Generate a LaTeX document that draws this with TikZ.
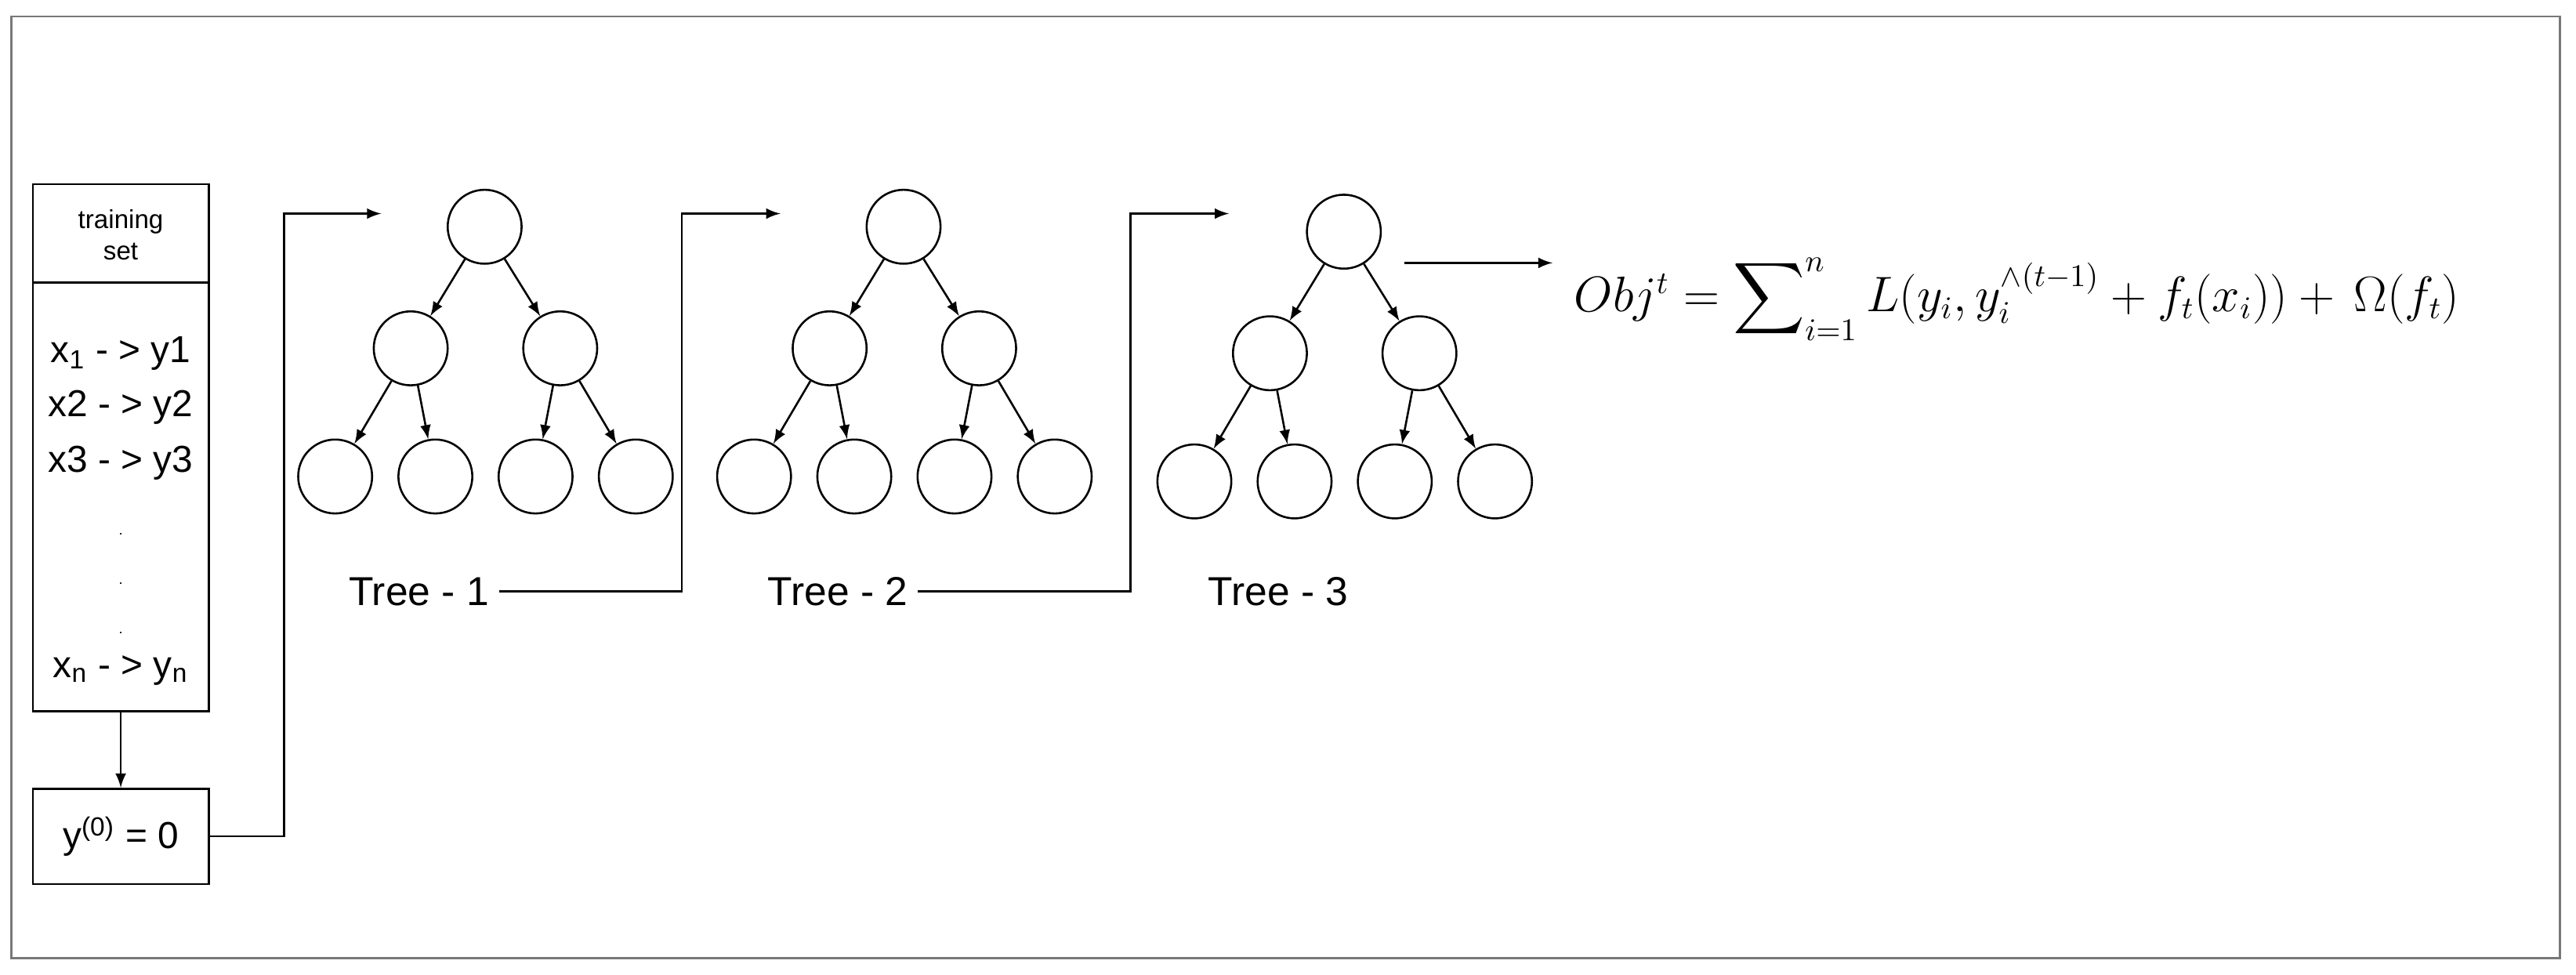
\documentclass[tikz,border=0pt]{standalone}
\usepackage{fontspec}
\setmainfont{Liberation Sans}
\usepackage{amsmath}
\usetikzlibrary{arrows,positioning}
\definecolor{framegray}{RGB}{120,120,120}
\tikzset{
  leaf/.style={draw,circle,minimum size=0.9cm,inner sep=0pt,line width=0.7pt},
  box/.style={draw,line width=0.7pt,inner sep=0pt},
  link/.style={-latex,line width=0.7pt},
  label/.style={font=\fontsize{13}{15}\selectfont}
}
\begin{document}
\begin{tikzpicture}[x=0.02cm,y=-0.02cm,font=\sffamily]
      \useasboundingbox (0,0) rectangle (1568,593);
      \draw[framegray,line width=0.8pt] (7,10) rectangle (1558,583);
      % training set
      \node[box,minimum width=2.14cm,minimum height=6.42cm] (train) at (73.5,272.5) {};
      \draw[line width=0.7pt] (20,172) -- (127,172);
      \node[align=center,font=\fontsize{9}{11}\selectfont] (head) at (73.5,143) {training\\set};
      \node[label] (r1) at (73.5,215) {x\textsubscript{1} - > y1};
      \node[label] (r2) at (73.5,248) {x2 - > y2};
      \node[label] (r3) at (73.5,282) {x3 - > y3};
      \foreach \yy in {325,355,385}
        \node[font=\tiny] at (73.5,\yy) {.};
      \node[label] (rn) at (73.5,408) {x\textsubscript{n} - > y\textsubscript{n}};
      \node[box,minimum width=2.14cm,minimum height=1.16cm,label] (init) at (73.5,509) {y\textsuperscript{(0)} = 0};
      \draw[link] (train) -- (init);
      % trees
      \foreach \t/\x/\yo in {1/295/0,2/550/0,3/818/3} {
        \node[leaf] (root\t) at (\x,138+\yo) {};
        \node[leaf] (l\t) at (\x-45,212+\yo) {};
        \node[leaf] (r\t) at (\x+46,212+\yo) {};
        \node[leaf] (ll\t) at (\x-91,290+\yo) {};
        \node[leaf] (lr\t) at (\x-30,290+\yo) {};
        \node[leaf] (rl\t) at (\x+31,290+\yo) {};
        \node[leaf] (rr\t) at (\x+92,290+\yo) {};
        \draw[link] (root\t) -- (l\t);
        \draw[link] (root\t) -- (r\t);
        \draw[link] (l\t) -- (ll\t);
        \draw[link] (l\t) -- (lr\t);
        \draw[link] (r\t) -- (rl\t);
        \draw[link] (r\t) -- (rr\t);
        \node[label,font=\fontsize{14}{16}\selectfont] (name\t) at (\x-40,360) {Tree - \t};
      }
      \coordinate (in1) at (232,130);
      \coordinate (in2) at (475,130);
      \coordinate (in3) at (748,130);
      \draw[link] (init.east) -- (173,509) |- (in1);
      \draw[link] (name1.east) -- (415,360) |- (in2);
      \draw[link] (name2.east) -- (688,360) |- (in3);
      % objective
      \node[anchor=west,font=\fontsize{16}{19}\selectfont] (obj) at (952,182)
        {$Obj^{t}=\displaystyle\sum\nolimits_{i=1}^{n} L(y_i,y_i^{\wedge(t-1)}+f_t(x_i))+\,\Omega(f_t)$};
      \coordinate (out) at (855,160);
      \draw[link] (out) -- (945,160);
\end{tikzpicture}
\end{document}
